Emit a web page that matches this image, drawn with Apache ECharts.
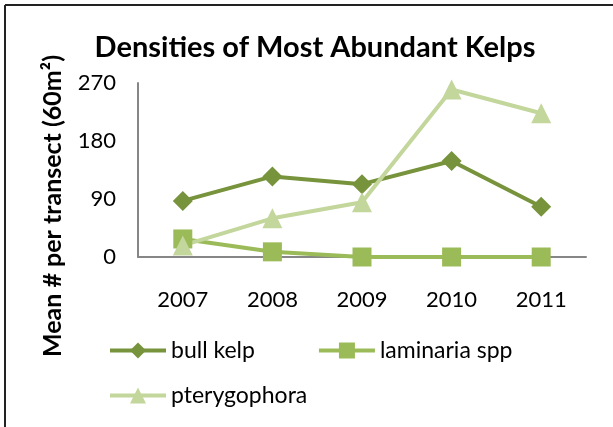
<!DOCTYPE html>
<html>
<head>
<meta charset="utf-8">
<script src="https://cdn.jsdelivr.net/npm/echarts@6/dist/echarts.min.js"></script>
<style>
  html, body { margin: 0; padding: 0; background: #fff; }
  #chart { width: 613px; height: 427px; }
</style>
</head>
<body>
<div id="chart"></div>
<script>
// Survey years and mean densities per 60 m² transect
const years = ['2007', '2008', '2009', '2010', '2011'];
const bullKelp = [87, 125, 113, 149, 78];
const laminaria = [28, 8, 0, 0, 0];
const pterygophora = [18, 60, 85, 260, 223];
const yTicks = [0, 90, 180, 270];

const FONT = 'Lato, "Open Sans", sans-serif';
const C_BULL = '#77933C';
const C_LAM = '#9BBB59';
const C_PTER = '#C3D69B';

const chart = echarts.init(document.getElementById('chart'));

function lineSeries(name, data, color, symbol, size) {
  return {
    name: name,
    type: 'line',
    data: data,
    symbol: symbol,
    symbolSize: size,
    showAllSymbol: true,
    lineStyle: { color: color, width: 4 },
    itemStyle: { color: color },
    emphasis: { disabled: true },
    animation: false
  };
}

const legendCommon = {
  itemWidth: 56,
  itemHeight: 20,
  lineStyle: { width: 4 },
  textStyle: { fontFamily: FONT, fontSize: 23, color: '#000' }
};

chart.setOption({
  animation: false,
  title: {
    text: 'Densities of Most Abundant Kelps',
    left: 310,
    textAlign: 'center',
    top: 28,
    textStyle: { fontFamily: FONT, fontSize: 29, fontWeight: 'bold', color: '#000' }
  },
  legend: [
    Object.assign({}, legendCommon, {
      data: ['bull kelp', 'laminaria spp'],
      left: 103,
      top: 334,
      itemGap: 62
    }),
    Object.assign({}, legendCommon, {
      data: ['pterygophora'],
      left: 103,
      top: 379
    })
  ],
  grid: { left: 138, right: 27, top: 83, bottom: 170 },
  xAxis: {
    type: 'category',
    data: years,
    boundaryGap: true,
    axisLine: { lineStyle: { color: '#868686', width: 2 } },
    axisTick: { show: false },
    axisLabel: { fontFamily: FONT, fontSize: 22, color: '#000', margin: 32 }
  },
  yAxis: {
    type: 'value',
    min: yTicks[0],
    max: yTicks[yTicks.length - 1],
    interval: yTicks[1] - yTicks[0],
    axisLine: { show: true, lineStyle: { color: '#868686', width: 2 } },
    axisTick: { show: false },
    splitLine: { show: false },
    axisLabel: { fontFamily: FONT, fontSize: 22, color: '#000', margin: 22 }
  },
  series: [
    lineSeries('bull kelp', bullKelp, C_BULL, 'diamond', 20),
    lineSeries('laminaria spp', laminaria, C_LAM, 'rect', 19),
    lineSeries('pterygophora', pterygophora, C_PTER, 'triangle', 20)
  ],
  graphic: [
    {
      type: 'text',
      x: 53,
      y: 206,
      rotation: Math.PI / 2,
      style: {
        text: 'Mean # per transect (60m²)',
        fontFamily: FONT,
        fontSize: 25,
        fontWeight: 'bold',
        fill: '#000',
        textAlign: 'center',
        textVerticalAlign: 'middle'
      }
    },
    { type: 'line', shape: { x1: 5, y1: 5, x2: 613, y2: 5 }, style: { stroke: '#222', lineWidth: 2 } },
    { type: 'line', shape: { x1: 5, y1: 5, x2: 5, y2: 427 }, style: { stroke: '#222', lineWidth: 2 } }
  ]
});
</script>
</body>
</html>
